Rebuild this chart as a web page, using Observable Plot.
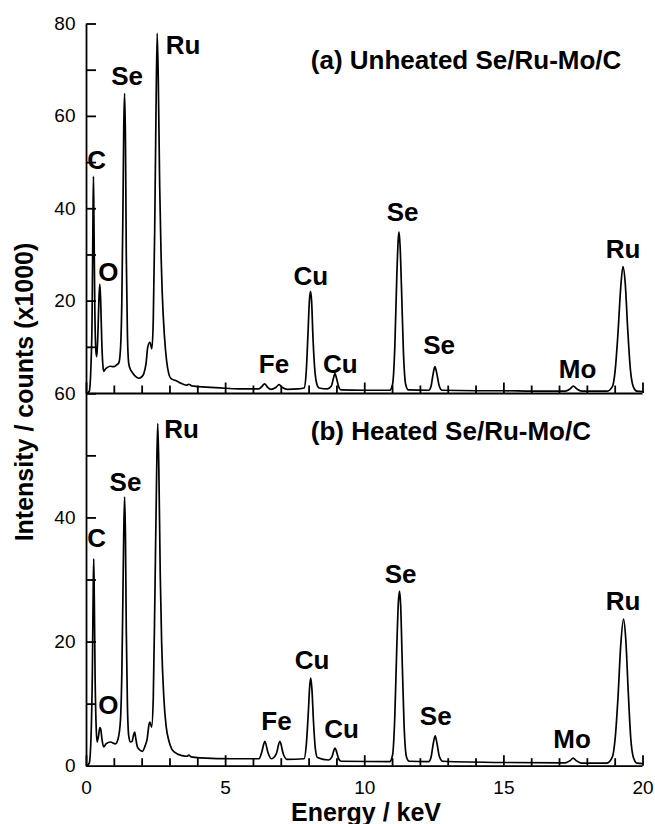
<!DOCTYPE html>
<html><head><meta charset="utf-8">
<script src="https://cdn.jsdelivr.net/npm/d3@7"></script>
<script src="https://cdn.jsdelivr.net/npm/@observablehq/plot@0.6"></script>
<style>
body{margin:0;background:#fff;}
#chart{position:relative;width:655px;height:824px;font-family:"Liberation Sans",Arial,sans-serif;color:#000;}
#top,#bottom{position:absolute;left:0;}
#top{top:0}
#bottom{top:380px}
.lab{position:absolute;font-weight:bold;font-size:25px;line-height:1;white-space:nowrap;}
</style></head><body>
<div id="chart">
<div id="top"></div><div id="bottom"></div>
<div class="lab" style="left:24px;top:392px;transform:translate(-50%,-50%) rotate(-90deg);">Intensity / counts (x1000)</div>
<div class="lab" style="left:366px;top:812px;transform:translate(-50%,-50%);">Energy / keV</div>
</div>
<script>
// ---- Data (energy in keV, counts in thousands) ----
const energyA = [0.00,0.10,0.16,0.20,0.23,0.25,0.27,0.30,0.34,0.37,0.41,0.45,0.48,0.51,0.55,0.59,0.62,0.68,0.74,0.85,0.98,1.08,1.16,1.22,1.27,1.31,1.34,1.37,1.40,1.43,1.47,1.52,1.58,1.64,1.76,1.88,1.98,2.06,2.14,2.20,2.28,2.35,2.40,2.45,2.50,2.54,2.58,2.63,2.68,2.72,2.80,2.88,2.96,3.04,3.20,3.44,3.60,3.68,3.76,3.86,4.30,4.80,5.50,6.20,6.30,6.40,6.50,6.64,6.80,6.92,7.04,7.22,7.60,7.82,7.90,7.96,8.01,8.05,8.09,8.14,8.20,8.28,8.36,8.66,8.80,8.87,8.93,8.99,9.06,9.14,10.00,10.90,11.00,11.08,11.15,11.20,11.23,11.27,11.32,11.39,11.47,11.56,12.30,12.38,12.45,12.52,12.59,12.67,12.78,14.00,15.00,16.00,17.20,17.38,17.50,17.62,17.80,18.70,18.90,19.00,19.10,19.20,19.28,19.36,19.45,19.55,19.65,19.78,20.00];
const countsA = [0.0,0.5,6,16,36,47,36,18,9,8.0,13,21,23.7,20,11,6,4.8,5.3,5.6,5.9,5.8,6.2,6.6,9.5,20,40,58,65,55,30,13,6.4,5.2,4.6,3.7,3.3,3.6,4.3,6.5,10,11.1,9.7,16,35,62,78,68,45,30,22,12.5,7,4.2,3.2,2.8,2.1,1.8,2.0,1.7,1.6,1.4,1.2,1.0,1.0,1.5,2.1,1.4,0.9,1.3,1.9,1.3,0.9,1.0,1.2,5,13,20,22.1,20,12,5.5,2.0,1.2,1.0,1.6,3.2,4.3,3.2,1.5,0.8,0.7,0.7,2,10,25,33,35,32,23,9,2,0.8,0.7,1.5,4,5.8,4.3,1.8,0.7,0.6,0.6,0.5,0.5,1.0,1.6,1.0,0.5,0.5,1.5,5,13,23,27.5,24,14,5,1.5,0.5,0.4];

const energyB = [0.00,0.10,0.17,0.21,0.24,0.26,0.28,0.31,0.35,0.38,0.43,0.48,0.51,0.56,0.62,0.70,0.86,1.04,1.14,1.22,1.27,1.31,1.34,1.37,1.40,1.43,1.47,1.52,1.58,1.64,1.69,1.73,1.77,1.83,1.92,2.01,2.10,2.18,2.25,2.28,2.34,2.40,2.46,2.52,2.56,2.60,2.65,2.70,2.78,2.86,2.96,3.06,3.15,3.44,3.62,3.68,3.76,4.10,5.30,6.20,6.30,6.41,6.52,6.64,6.82,6.95,7.07,7.20,7.82,7.90,7.97,8.02,8.06,8.10,8.16,8.22,8.30,8.70,8.82,8.88,8.93,8.99,9.06,9.15,10.90,11.00,11.08,11.15,11.21,11.25,11.29,11.34,11.41,11.50,11.60,12.30,12.38,12.46,12.53,12.60,12.68,12.80,15.00,17.20,17.38,17.49,17.60,17.80,18.70,18.90,19.00,19.10,19.20,19.30,19.38,19.47,19.56,19.65,19.78,20.00];
const countsB = [0,0.5,5.7,15,28,33.4,27,14,6,3.9,4.8,6.2,6.0,4.2,3.1,3.6,3.9,3.6,4.5,7.4,15,28,38,43.4,37,22,10,4.8,3.9,4.0,5.0,5.5,4.5,3.1,2.6,2.4,3.2,4.4,6.8,7.1,6.3,11,28,47,55.2,48,31,20,11,6.5,4.1,2.8,2.3,1.7,1.6,1.8,1.5,1.35,1.2,1.2,2.3,4.0,2.2,1.2,2.0,4.0,2.0,1.1,1.2,3.5,8.5,12.8,14.2,12.5,7,3,1.4,1.0,1.5,2.4,2.9,2.3,1.2,0.8,0.75,1.8,8,19,26.5,28.2,26,18,7,1.5,0.8,0.75,1.4,3.6,4.9,3.6,1.6,0.8,0.6,0.55,0.9,1.3,0.9,0.5,0.5,1.5,4.5,11,19.5,23.7,20.5,12,4.5,1.5,0.5,0.4];

const panelTitles = ["(a) Unheated Se/Ru-Mo/C", "(b) Heated Se/Ru-Mo/C"];
const peakNames = ["C","O","Se","Ru","Fe","Cu","Cu","Se","Se","Mo","Ru"];
const xTickLabels = [0,5,10,15,20];
const xMinorTicks = [1,2,3,4,6,7,8,9,11,12,13,14,16,17,18,19];
const yTickLabelsA = [20,40,60,80];
const yMinorTicksA = [10,20,30,40,50,60,70,80];
const yTickLabelsB = [0,20,40,60];
const yMinorTicksB = [10,20,30,40,50,60];

// ---- Annotation layout (where each label sits, in data units) ----
const labelPosA = [[0.36,50.5],[0.79,26.2],[1.46,68.7],[3.47,75.4],[6.74,6.3],[8.06,25.3],[9.12,6.3],[11.36,39.1],[12.67,10.4],[17.65,5.2],[19.28,31.2]];
const labelPosB = [[0.36,36.7],[0.79,9.8],[1.40,45.7],[3.42,54.2],[6.83,7.1],[8.11,17.0],[9.17,5.9],[11.29,30.9],[12.55,8.0],[17.45,4.3],[19.28,26.5]];
const titlePos = [[8.06,72.1],[8.06,53.9]];

const W = 655, ML = 86, MR = 12.5;
const plotW = W - ML - MR;
const font = "Liberation Sans, Arial, sans-serif";

function panel({energy, counts, yMax, height, marginTop, marginBottom, yLabels, yMinor, pos, title, tpos, showX}) {
  const data = energy.map((e, i) => ({e, c: counts[i]}));
  const labels = peakNames.map((t, i) => ({t, x: pos[i][0], y: pos[i][1]}));
  const plotH = height - marginTop - marginBottom;
  const pxY = yMax / plotH;   // data units per pixel (y)
  const pxX = 20 / plotW;     // data units per pixel (x)
  const marks = [
    Plot.ruleX([0], {strokeWidth: 1.8, stroke: "black"}),
    Plot.ruleY([0], {strokeWidth: 1.8, stroke: "black"}),
    Plot.ruleX(xMinorTicks, {x: d => d, y1: 0, y2: 7.5 * pxY, strokeWidth: 1.8, stroke: "black"}),
    Plot.ruleX(xTickLabels, {x: d => d, y1: 0, y2: 10.5 * pxY, strokeWidth: 1.8, stroke: "black"}),
    Plot.link(yMinor, {x1: 0, x2: 9.5 * pxX, y1: d => d, y2: d => d, strokeWidth: 1.8, stroke: "black"}),
    Plot.axisY({ticks: yLabels, tickSize: 0, tickPadding: 11, fontSize: 19, label: null}),
    Plot.line(data, {x: "e", y: "c", curve: "monotone-x", strokeWidth: 1.7, stroke: "black"}),
    Plot.text(labels, {x: "x", y: "y", text: "t", fontSize: 26, fontWeight: "bold", fill: "black"}),
    Plot.text([title], {x: tpos[0], y: tpos[1], text: d => d, textAnchor: "start", fontSize: 26, fontWeight: "bold", fill: "black"})
  ];
  if (showX) marks.push(Plot.axisX({ticks: xTickLabels, tickSize: 0, tickPadding: 14, fontSize: 19, label: null}));
  return Plot.plot({
    width: W, height, marginTop, marginBottom, marginLeft: ML, marginRight: MR,
    style: {fontFamily: font, background: "transparent", overflow: "visible", color: "black"},
    x: {domain: [0, 20], axis: null},
    y: {domain: [0, yMax], axis: null},
    marks
  });
}

document.getElementById("top").append(panel({
  energy: energyA, counts: countsA, yMax: 80, height: 394, marginTop: 23.5, marginBottom: 1,
  yLabels: yTickLabelsA, yMinor: yMinorTicksA, pos: labelPosA,
  title: panelTitles[0], tpos: titlePos[0], showX: false
}));
document.getElementById("bottom").append(panel({
  energy: energyB, counts: countsB, yMax: 60, height: 444, marginTop: 13.3, marginBottom: 58.3,
  yLabels: yTickLabelsB, yMinor: yMinorTicksB, pos: labelPosB,
  title: panelTitles[1], tpos: titlePos[1], showX: true
}));
</script>
</body></html>
